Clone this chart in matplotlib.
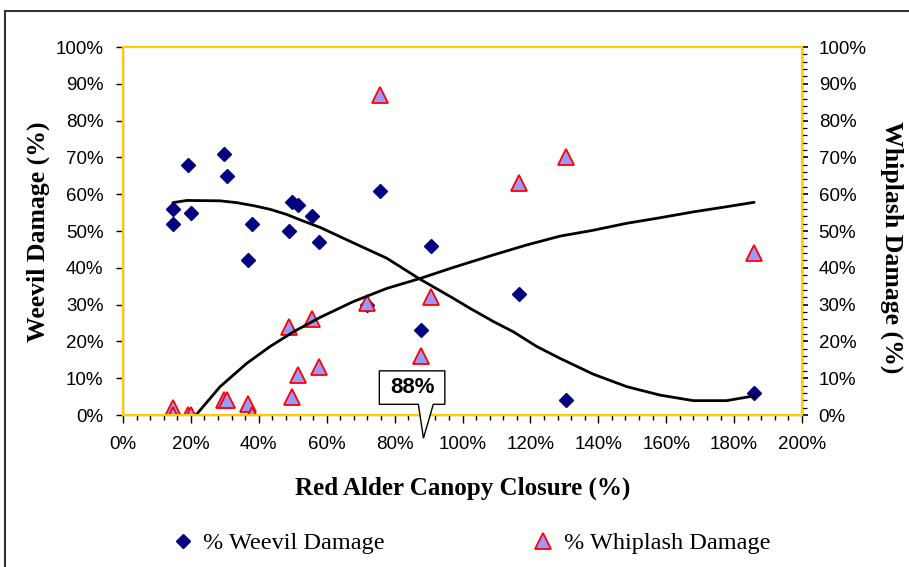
import matplotlib
matplotlib.use("Agg")
import matplotlib.pyplot as plt
from matplotlib.lines import Line2D
from matplotlib.patches import Polygon
from matplotlib.ticker import MultipleLocator, PercentFormatter

# ---- data ----
canopy = [14.7, 14.7, 19.1, 19.9, 29.7, 30.5, 36.9, 37.9, 49.7, 48.9,
          51.6, 55.6, 57.8, 71.8, 75.8, 87.8, 90.6, 116.6, 130.6, 185.9]
weevil = [56, 52, 68, 55, 71, 65, 42, 52, 58, 50,
          57, 54, 47, 30, 61, 23, 46, 33, 4, 6]
whiplash = [2, 0, 0, 0, 4, 4, 3, 0, 5, 24,
            11, 26, 13, 30.5, 87, 16, 32, 63, 70, 44]

weevil_trend_x = [14.7, 18.8, 28.6, 33.5, 38.4, 43.3, 48.2, 53.1, 58.0, 62.9,
                  67.8, 77.7, 87.5, 97.3, 102.2, 109.1, 115.0, 121.9, 128.7,
                  138.5, 148.4, 158.2, 168.0, 177.8, 185.9]
weevil_trend_y = [57.7, 58.3, 58.2, 57.7, 56.9, 55.9, 54.5, 52.7, 51.0, 48.9,
                  46.8, 42.6, 36.9, 31.7, 29.0, 25.4, 22.6, 18.6, 15.4,
                  11.1, 7.7, 5.4, 3.9, 3.9, 5.2]
whip_trend_x = [21.5, 28.6, 36.4, 43.3, 50.2, 58.0, 67.8, 77.7, 87.5, 97.3,
                109.1, 118.9, 128.7, 138.5, 148.4, 158.2, 168.0, 177.8, 185.9]
whip_trend_y = [0, 7.7, 14.0, 18.6, 22.6, 26.5, 30.8, 34.4, 37.1, 40.1,
                43.5, 46.2, 48.6, 50.2, 52.1, 53.6, 55.2, 56.6, 57.8]

callout_x = 88
callout_label = "88%"

x_label = "Red Alder Canopy Closure (%)"
y_left_label = "Weevil Damage (%)"
y_right_label = "Whiplash Damage (%)"
legend_labels = ["% Weevil Damage", "% Whiplash Damage"]

SANS = ["Liberation Sans", "DejaVu Sans"]
SERIF = ["Liberation Serif", "DejaVu Serif"]
GOLD = "#FFCC00"

W, H = 909, 567
fig = plt.figure(figsize=(W / 100, H / 100), dpi=100)
fig.patch.set_facecolor("white")

L, R, B, T = 123 / W, 802 / W, 1 - 415 / H, 1 - 47 / H
ax = fig.add_axes([L, B, R - L, T - B])
ax2 = ax.twinx()

ax.set_xlim(0, 200)
ax.set_ylim(0, 100)
ax2.set_ylim(0, 100)

DMS = 7.4
TMS = 11

# series
ax.plot(canopy, weevil, linestyle="none", marker="D", markersize=DMS,
        color="#000080", markeredgecolor="#000080", zorder=3)
ax.plot(canopy, whiplash, linestyle="none", marker="^", markersize=TMS,
        markerfacecolor="#9999FF", markeredgecolor="#FF0000",
        markeredgewidth=1.3, zorder=4)
ax.plot(weevil_trend_x, weevil_trend_y, color="black", lw=2.0, zorder=5,
        solid_joinstyle="round", solid_capstyle="round")
ax.plot(whip_trend_x, whip_trend_y, color="black", lw=2.0, zorder=5,
        solid_joinstyle="round", solid_capstyle="round")

# spines
for a in (ax, ax2):
    for s in a.spines.values():
        s.set_color(GOLD)
        s.set_linewidth(1.5)
ax.axvline(0, color="#222200", lw=0.9, zorder=6, clip_on=False)
ax.axhline(0, color="#8a7a20", lw=0.9, zorder=6, clip_on=False)
ax.axvline(200, color="#222200", lw=0.9, zorder=6, clip_on=False)

# ticks
pct = PercentFormatter(xmax=100, decimals=0)
ax.xaxis.set_major_locator(MultipleLocator(20))
ax.xaxis.set_minor_locator(MultipleLocator(4))
ax.yaxis.set_major_locator(MultipleLocator(10))
ax2.yaxis.set_major_locator(MultipleLocator(10))
ax2.yaxis.set_minor_locator(MultipleLocator(2))
ax.xaxis.set_major_formatter(pct)
ax.yaxis.set_major_formatter(pct)
ax2.yaxis.set_major_formatter(pct)

ax.tick_params(axis="x", which="major", direction="out", length=6, width=1,
               color="black", pad=9, labelsize=13.5)
ax.tick_params(axis="x", which="minor", direction="out", length=3.5, width=1,
               color="black")
ax.tick_params(axis="y", which="major", direction="out", length=5, width=1,
               color="black", pad=9, labelsize=13.5)
ax2.tick_params(axis="y", which="major", direction="out", length=4, width=1.2,
                color="black", pad=8, labelsize=13.5)
ax2.tick_params(axis="y", which="minor", direction="out", length=3.5, width=0.9,
                color="black")
for lab in ax.get_xticklabels() + ax.get_yticklabels() + ax2.get_yticklabels():
    lab.set_family(SANS)

# axis titles
ax.set_xlabel(x_label, family=SERIF, fontweight="bold", fontsize=18,
              labelpad=17)
ax.set_ylabel(y_left_label, family=SERIF, fontweight="bold", fontsize=18.5,
              va="center")
ax.yaxis.set_label_coords((38 - 123) / (802 - 123), (415 - 232) / (415 - 47))
ax2.set_ylabel(y_right_label, family=SERIF, fontweight="bold", fontsize=18.5,
               rotation=270, va="center")
ax2.yaxis.set_label_coords((892 - 123) / (802 - 123), (415 - 247) / (415 - 47))

# callout
bx0, bx1, by0, by1 = callout_x - 12.5, callout_x + 6.8, 2.9, 12.0
tail = [(bx0, by1), (bx1, by1), (bx1, by0), (callout_x + 3.4, by0),
        (callout_x + 0.5, -6.3), (callout_x - 1.0, by0), (bx0, by0)]
ax2.add_patch(Polygon(tail, closed=True, facecolor="white", edgecolor="black",
                      lw=1.0, clip_on=False, zorder=10))
ax2.text((bx0 + bx1) / 2, (by0 + by1) / 2, callout_label, ha="center",
         va="center", family=SANS, fontweight="bold", fontsize=16, zorder=11)

# legend
h1 = Line2D([], [], linestyle="none", marker="D", markersize=DMS,
            color="#000080")
h2 = Line2D([], [], linestyle="none", marker="^", markersize=TMS,
            markerfacecolor="#9999FF", markeredgecolor="#FF0000",
            markeredgewidth=1.3)
fig.legend([h1, h2], legend_labels, loc="center",
           bbox_to_anchor=((175 + 768) / 2 / W, 1 - 543 / H), ncol=2,
           frameon=False, prop={"family": SERIF, "size": 17.5},
           handlelength=0.8, handletextpad=0.45, columnspacing=6.1,
           borderaxespad=0)

# outer frame (partially visible)
fig.add_artist(Line2D([5 / W, 5 / W], [0, 1 - 11 / H], transform=fig.transFigure,
                      color="#333333", lw=1.5))
fig.add_artist(Line2D([5 / W, 1], [1 - 11 / H, 1 - 11 / H],
                      transform=fig.transFigure, color="#333333", lw=1.5))

fig.savefig("out.png", dpi=100, facecolor="white")
